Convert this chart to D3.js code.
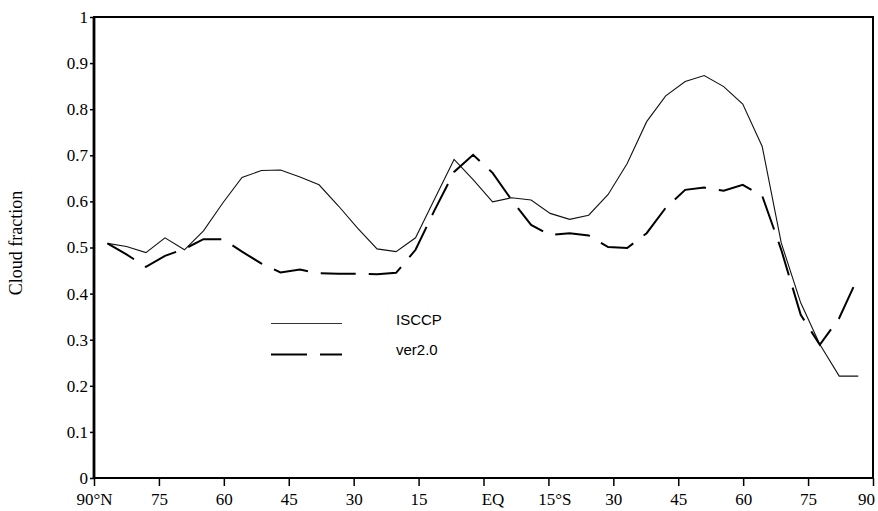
<!DOCTYPE html>
<html>
<head>
<meta charset="utf-8">
<script src="https://cdn.jsdelivr.net/npm/d3@7"></script>
<style>
  body { margin: 0; background: white; }
  svg { display: block; }
</style>
</head>
<body>
<div id="chart"></div>
<script>
// latitude of each model/obs point (deg, north positive)
var latitudes = [86.9, 82.5, 78.0, 73.6, 69.1, 64.7, 60.2, 55.8, 51.3, 46.9,
  42.4, 38.0, 33.5, 29.1, 24.6, 20.2, 15.7, 11.3, 6.8, 2.4,
  -2.1, -6.5, -11.0, -15.4, -19.9, -24.3, -28.8, -33.2, -37.7, -42.1,
  -46.6, -51.0, -55.5, -59.9, -64.4, -68.8, -73.3, -77.7, -82.2, -86.6];

var isccp = [0.509, 0.502, 0.489, 0.521, 0.495, 0.536, 0.597, 0.652, 0.667, 0.668,
  0.653, 0.636, 0.590, 0.542, 0.497, 0.491, 0.521, 0.605, 0.691, 0.647,
  0.599, 0.608, 0.603, 0.574, 0.561, 0.570, 0.615, 0.682, 0.773, 0.829,
  0.860, 0.873, 0.849, 0.811, 0.719, 0.510, 0.380, 0.290, 0.221, 0.221];

var ver20 = [0.509, 0.485, 0.458, 0.482, 0.497, 0.518, 0.518, 0.491, 0.465, 0.446,
  0.452, 0.444, 0.443, 0.443, 0.442, 0.445, 0.495, 0.581, 0.664, 0.701,
  0.662, 0.603, 0.549, 0.527, 0.531, 0.526, 0.501, 0.499, 0.531, 0.586,
  0.625, 0.630, 0.623, 0.636, 0.612, 0.495, 0.354, 0.289, 0.347, 0.437];

var yTicks = [0, 0.1, 0.2, 0.3, 0.4, 0.5, 0.6, 0.7, 0.8, 0.9, 1];
var yTickLabels = ["0", "0.1", "0.2", "0.3", "0.4", "0.5", "0.6", "0.7", "0.8", "0.9", "1"];

var xTicks = [90, 75, 60, 45, 30, 15, 0, -15, -30, -45, -60, -75, -90];
var xTickLabels = ["90°N", "75", "60", "45", "30", "15", "EQ", "15°S", "30", "45", "60", "75", "90"];

var seriesNames = ["ISCCP", "ver2.0"];

var width = 878, height = 511;
var margin = {top: 17, right: 5, bottom: 33, left: 94};

var svg = d3.select("#chart").append("svg")
  .attr("width", width)
  .attr("height", height);

var x = d3.scaleLinear().domain([90, -90]).range([margin.left, width - margin.right]);
var y = d3.scaleLinear().domain([0, 1]).range([height - margin.bottom, margin.top]);

var serif = "'Liberation Serif', 'Times New Roman', serif";

// y axis
var yAxis = svg.append("g")
  .attr("transform", "translate(" + margin.left + ",0)")
  .call(d3.axisLeft(y).tickValues(yTicks)
    .tickFormat(function(d, i) { return yTickLabels[i]; })
    .tickSize(4).tickPadding(2));
yAxis.select(".domain").remove();
yAxis.selectAll("line").attr("stroke", "#000").attr("stroke-width", 1.5);
yAxis.selectAll("text")
  .attr("fill", "#000")
  .style("font-family", serif)
  .style("font-size", "17px");

// x axis
var nudge = {"EQ": 9, "15°S": 6, "90": -7};
var xAxis = svg.append("g")
  .attr("transform", "translate(0," + y(0) + ")")
  .call(d3.axisBottom(x).tickValues(xTicks)
    .tickFormat(function(d, i) { return xTickLabels[i]; })
    .tickSize(8).tickPadding(7));
xAxis.select(".domain").remove();
xAxis.selectAll("line").attr("stroke", "#000").attr("stroke-width", 1.5);
xAxis.selectAll("text")
  .attr("fill", "#000")
  .attr("dx", function(d, i) { return (nudge[xTickLabels[i]] && i > 0) ? nudge[xTickLabels[i]] : 0; })
  .style("font-family", serif)
  .style("font-size", "17px");

// frame
svg.append("rect")
  .attr("x", x(90)).attr("y", y(1))
  .attr("width", x(-90) - x(90)).attr("height", y(0) - y(1))
  .attr("fill", "none").attr("stroke", "#000").attr("stroke-width", 2);
svg.append("line")
  .attr("x1", x(90)).attr("x2", x(90)).attr("y1", y(1)).attr("y2", y(0))
  .attr("stroke", "#000").attr("stroke-width", 2.8);

// y title
svg.append("text")
  .attr("transform", "translate(22," + 243 + ") rotate(-90)")
  .attr("text-anchor", "middle")
  .style("font-family", serif)
  .style("font-size", "18px")
  .text("Cloud fraction");

var line = d3.line()
  .x(function(d) { return x(d[0]); })
  .y(function(d) { return y(d[1]); });

var isccpPts = latitudes.map(function(l, i) { return [l, isccp[i]]; });
var verPts = latitudes.map(function(l, i) { return [l, ver20[i]]; });

svg.append("path")
  .datum(isccpPts)
  .attr("d", line)
  .attr("fill", "none")
  .attr("stroke", "#111")
  .attr("stroke-width", 1.1);

svg.append("path")
  .datum(verPts)
  .attr("d", line)
  .attr("fill", "none")
  .attr("stroke", "#000")
  .attr("stroke-width", 2)
  .attr("stroke-dasharray", "35,13")
  .attr("stroke-dashoffset", 4);

// legend
var legend = svg.append("g");
legend.append("line")
  .attr("x1", 271).attr("x2", 342).attr("y1", 323.5).attr("y2", 323.5)
  .attr("stroke", "#333").attr("stroke-width", 1.1);
legend.append("line")
  .attr("x1", 271).attr("x2", 342).attr("y1", 354.5).attr("y2", 354.5)
  .attr("stroke", "#000").attr("stroke-width", 2)
  .attr("stroke-dasharray", "36,13");
legend.selectAll("text")
  .data(seriesNames)
  .enter().append("text")
    .attr("x", 396)
    .attr("y", function(d, i) { return 325 + i * 30; })
    .style("font-family", "'Liberation Sans', Arial, sans-serif")
    .style("font-size", "15px")
    .text(function(d) { return d; });
</script>
</body>
</html>
